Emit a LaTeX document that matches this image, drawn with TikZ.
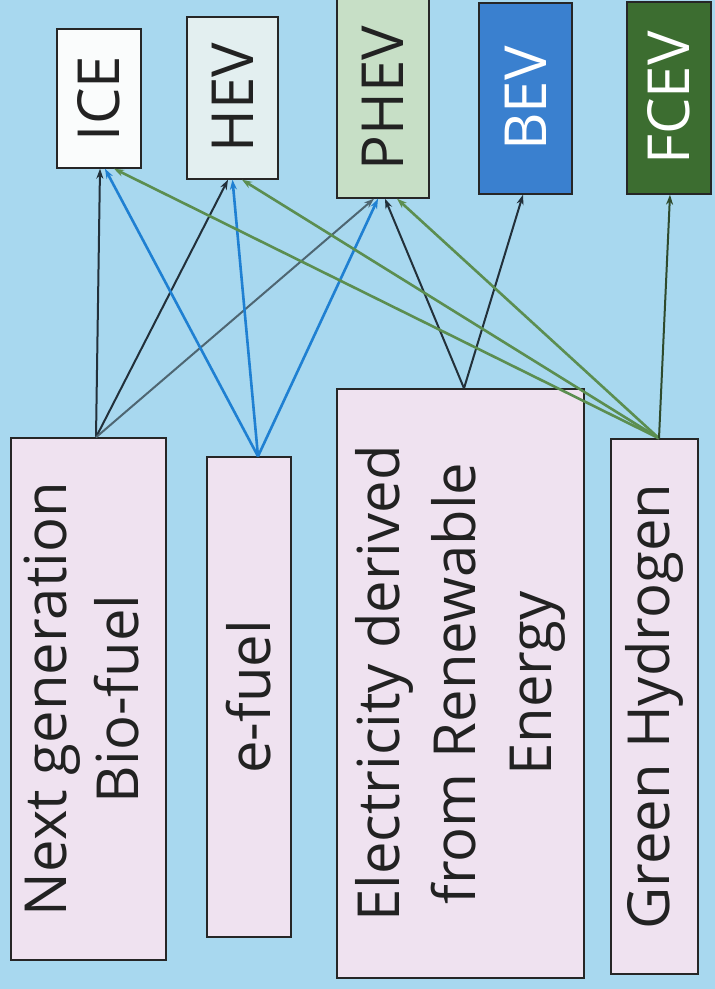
\documentclass[tikz,border=0pt]{standalone}
\usepackage{fontspec}
\setmainfont{Open Sans}
\usepackage{graphicx}
\usetikzlibrary{arrows.meta,calc}
\definecolor{bg}{HTML}{A8D8EF}
\definecolor{pinkbox}{HTML}{EFE2F0}
\definecolor{icefill}{HTML}{FAFCFC}
\definecolor{hevfill}{HTML}{E3EFF0}
\definecolor{phevfill}{HTML}{C7DFC6}
\definecolor{bevfill}{HTML}{3A80CF}
\definecolor{fcevfill}{HTML}{3C6D30}
\definecolor{txt}{HTML}{222222}
\definecolor{darkln}{HTML}{22303A}
\definecolor{greyln}{HTML}{4E6672}
\definecolor{blueln}{HTML}{1F80D2}
\definecolor{greenln}{HTML}{5B8E50}
\definecolor{dgreenln}{HTML}{2E4A2C}
\begin{document}
\begin{tikzpicture}[x=1pt,y=-1pt,
  box/.style={draw=black!85,line width=1.4pt,inner sep=0pt,text=txt,
    font=\fontsize{58}{72}\selectfont},
  src/.style={box,fill=pinkbox},
  arr/.style={-{Stealth[length=10pt,width=7pt]},line width=2pt},
  thick arr/.style={arr,line width=2.6pt}]
\useasboundingbox[fill=bg] (0,0) rectangle (715,989);
% top boxes
\node[box,fill=icefill,minimum width=84pt,minimum height=139pt] (ice) at (99,98.5) {\rotatebox{90}{ICE}};
\node[box,fill=hevfill,minimum width=91pt,minimum height=162pt] (hev) at (232.5,98) {\rotatebox{90}{HEV}};
\node[box,fill=phevfill,minimum width=92pt,minimum height=200pt] (phev) at (383,98) {\rotatebox{90}{PHEV}};
\node[box,fill=bevfill,text=white,minimum width=93pt,minimum height=191pt] (bev) at (525.5,98.5) {\rotatebox{90}{BEV}};
\node[box,fill=fcevfill,text=white,minimum width=84pt,minimum height=192pt] (fcev) at (669,98) {\rotatebox{90}{FCEV}};
% bottom boxes
\node[src,minimum width=155pt,minimum height=522pt] (bio) at (88.5,699) {\rotatebox{90}{\begin{tabular}{@{}c@{}}Next generation\\Bio-fuel\end{tabular}}};
\node[src,minimum width=84pt,minimum height=480pt] (efuel) at (249,697) {\rotatebox{90}{e-fuel}};
\node[src,minimum width=247pt,minimum height=589pt,font=\fontsize{58}{76}\selectfont] (elec) at (460.5,683.5) {\rotatebox{90}{\begin{tabular}{@{}c@{}}Electricity derived\\from Renewable\\Energy\end{tabular}}};
\node[src,minimum width=87pt,minimum height=535pt] (gh) at (654.5,706.5) {\rotatebox{90}{Green Hydrogen}};
% connectors
\draw[arr,darkln] ([xshift=7.5pt]bio.north) -- ([xshift=1pt]ice.south);
\draw[arr,darkln] ([xshift=7.5pt]bio.north) -- ([xshift=-4.5pt]hev.south);
\draw[arr,greyln] ([xshift=7.5pt]bio.north) -- ([xshift=-9pt]phev.south);
\draw[thick arr,blueln] ([xshift=9pt]efuel.north) -- ([xshift=6pt]ice.south);
\draw[thick arr,blueln] ([xshift=9pt]efuel.north) -- ([xshift=0pt]hev.south);
\draw[thick arr,blueln] ([xshift=9pt]efuel.north) -- ([xshift=-5pt]phev.south);
\draw[arr,darkln] ([xshift=3.5pt]elec.north) -- ([xshift=2pt]phev.south);
\draw[arr,darkln] ([xshift=3.5pt]elec.north) -- ([xshift=-2.5pt]bev.south);
\draw[thick arr,greenln] ([xshift=4.5pt]gh.north) -- ([xshift=15pt]ice.south);
\draw[thick arr,greenln] ([xshift=4.5pt]gh.north) -- ([xshift=9.5pt]hev.south);
\draw[thick arr,greenln] ([xshift=4.5pt]gh.north) -- ([xshift=14pt]phev.south);
\draw[arr,dgreenln] ([xshift=4.5pt]gh.north) -- ([xshift=1pt]fcev.south);
\end{tikzpicture}
\end{document}
